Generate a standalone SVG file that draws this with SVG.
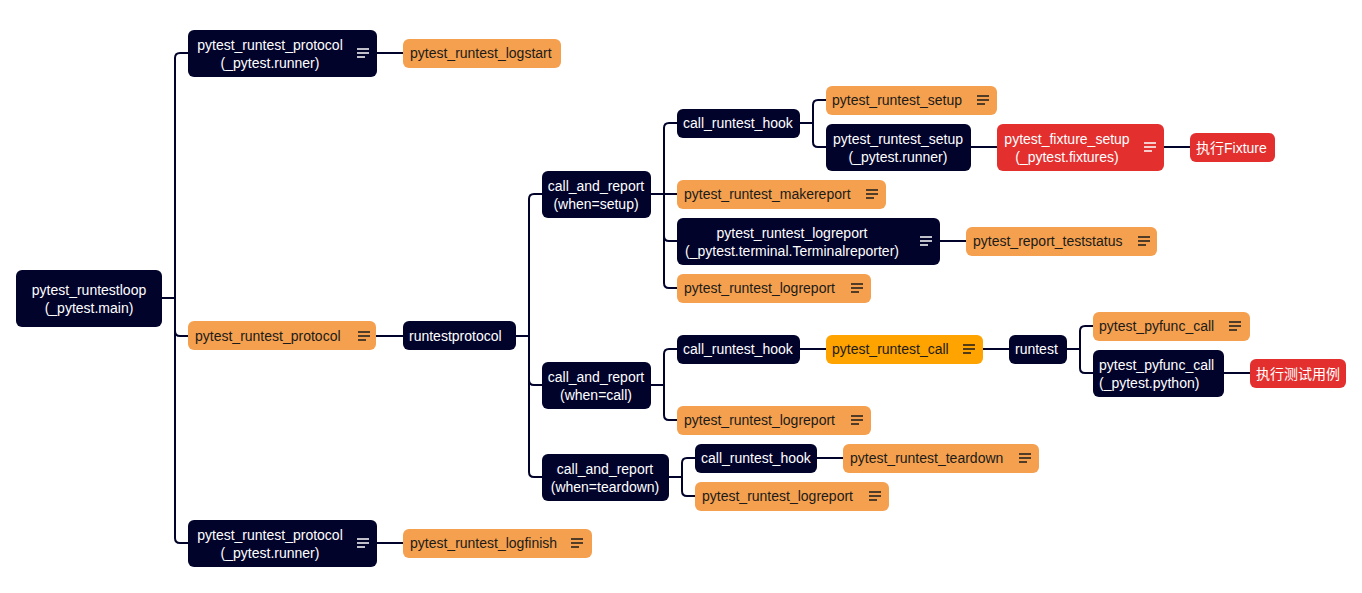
<svg xmlns="http://www.w3.org/2000/svg" width="1362" height="593" viewBox="0 0 1362 593">
<style>
.d{fill:#02032B}
.o{fill:#F5A04E}
.y{fill:#FFA300}
.r{fill:#E3302F}
text{font-family:"Liberation Sans","Noto Sans CJK SC",sans-serif;font-size:14px}
.w{fill:#ffffff}
.k{fill:#1b1b1b}
.c{text-anchor:middle}
.ic{fill:none;stroke-width:1.4}
.iw{stroke:#ffffff}
.ik{stroke:#1b1b1b}
#connectors path{fill:none;stroke:#02032B;stroke-width:2}
</style>
<defs>
<g id="mw"><path class="ic iw" d="M0 0H12M0 4H12M0 8H8"/></g>
<g id="mk"><path class="ic ik" d="M0 0H12M0 4H12M0 8H8"/></g>
</defs>
<rect width="1362" height="593" fill="#ffffff"/>
<g id="connectors">
<path d="M162 298H175V58Q175 53 180 53H188"/>
<path d="M162 298H175V331Q175 336 180 336H188"/>
<path d="M162 298H175V538Q175 543 180 543H188"/>
<path d="M377 53H403"/>
<path d="M376 336H403"/>
<path d="M377 543H403"/>
<path d="M516 336H529V199Q529 194 534 194H542"/>
<path d="M516 336H529V380Q529 385 534 385H542"/>
<path d="M516 336H529V472Q529 477 534 477H542"/>
<path d="M651 194H664V128Q664 123 669 123H677"/>
<path d="M651 194H677"/>
<path d="M651 194H664V236Q664 241 669 241H677"/>
<path d="M651 194H664V283Q664 288 669 288H677"/>
<path d="M800 123H813V105Q813 100 818 100H826"/>
<path d="M800 123H813V142Q813 147 818 147H826"/>
<path d="M971 147H997"/>
<path d="M1164 147H1190"/>
<path d="M940 241H966"/>
<path d="M651 385H664V354Q664 349 669 349H677"/>
<path d="M651 385H664V415Q664 420 669 420H677"/>
<path d="M800 349H826"/>
<path d="M983 349H1009"/>
<path d="M1067 349H1080V331Q1080 326 1085 326H1093"/>
<path d="M1067 349H1080V368Q1080 373 1085 373H1093"/>
<path d="M1224 373H1250"/>
<path d="M669 477H682V463Q682 458 687 458H695"/>
<path d="M669 477H682V491Q682 496 687 496H695"/>
<path d="M817 458H843"/>
</g>
<g id="root"><rect class="d" x="16" y="270" width="146" height="57" rx="6"/><text class="w c" x="89" y="295">pytest_runtestloop</text><text class="w c" x="89" y="313">(_pytest.main)</text></g>
<g id="p1"><rect class="d" x="188" y="30" width="189" height="47" rx="6"/><text class="w c" x="270" y="50">pytest_runtest_protocol</text><text class="w c" x="270" y="68">(_pytest.runner)</text><use href="#mw" x="357" y="49"/></g>
<g id="logstart"><rect class="o" x="403" y="39" width="158" height="29" rx="6"/><text class="k" x="410" y="58">pytest_runtest_logstart</text></g>
<g id="p2"><rect class="o" x="188" y="321" width="188" height="29" rx="6"/><text class="k" x="195" y="341">pytest_runtest_protocol</text><use href="#mk" x="358" y="332"/></g>
<g id="runtestprotocol"><rect class="d" x="403" y="321" width="113" height="29" rx="6"/><text class="w" x="409" y="341">runtestprotocol</text></g>
<g id="p3"><rect class="d" x="188" y="520" width="189" height="47" rx="6"/><text class="w c" x="270" y="540">pytest_runtest_protocol</text><text class="w c" x="270" y="558">(_pytest.runner)</text><use href="#mw" x="357" y="539"/></g>
<g id="logfinish"><rect class="o" x="403" y="529" width="189" height="29" rx="6"/><text class="k" x="410" y="548">pytest_runtest_logfinish</text><use href="#mk" x="571" y="539"/></g>
<g id="car_setup"><rect class="d" x="542" y="171" width="109" height="47" rx="6"/><text class="w c" x="596" y="191">call_and_report</text><text class="w c" x="596" y="209">(when=setup)</text></g>
<g id="crh1"><rect class="d" x="677" y="109" width="123" height="29" rx="6"/><text class="w" x="683" y="128">call_runtest_hook</text></g>
<g id="setup1"><rect class="o" x="826" y="86" width="171" height="29" rx="6"/><text class="k" x="832" y="105">pytest_runtest_setup</text><use href="#mk" x="977" y="96"/></g>
<g id="setup2"><rect class="d" x="826" y="124" width="145" height="47" rx="6"/><text class="w c" x="898" y="144">pytest_runtest_setup</text><text class="w c" x="898" y="162">(_pytest.runner)</text></g>
<g id="fixture_setup"><rect class="r" x="997" y="124" width="167" height="47" rx="6"/><text class="w c" x="1067" y="144">pytest_fixture_setup</text><text class="w c" x="1067" y="162">(_pytest.fixtures)</text><use href="#mw" x="1144" y="143"/></g>
<g id="exec_fixture"><rect class="r" x="1190" y="133" width="85" height="29" rx="6"/><text class="w" x="1196" y="153">执行Fixture</text></g>
<g id="makereport"><rect class="o" x="677" y="180" width="209" height="29" rx="6"/><text class="k" x="684" y="199">pytest_runtest_makereport</text><use href="#mk" x="866" y="190"/></g>
<g id="logreport_term"><rect class="d" x="677" y="218" width="263" height="47" rx="6"/><text class="w c" x="792" y="238">pytest_runtest_logreport</text><text class="w c" x="792" y="256">(_pytest.terminal.Terminalreporter)</text><use href="#mw" x="920" y="237"/></g>
<g id="teststatus"><rect class="o" x="966" y="227" width="191" height="29" rx="6"/><text class="k" x="973" y="246">pytest_report_teststatus</text><use href="#mk" x="1138" y="237"/></g>
<g id="logreport_setup"><rect class="o" x="677" y="274" width="194" height="29" rx="6"/><text class="k" x="684" y="293">pytest_runtest_logreport</text><use href="#mk" x="851" y="284"/></g>
<g id="car_call"><rect class="d" x="542" y="362" width="109" height="47" rx="6"/><text class="w c" x="596" y="382">call_and_report</text><text class="w c" x="596" y="400">(when=call)</text></g>
<g id="crh2"><rect class="d" x="677" y="335" width="123" height="29" rx="6"/><text class="w" x="683" y="354">call_runtest_hook</text></g>
<g id="runtest_call"><rect class="y" x="826" y="335" width="157" height="29" rx="6"/><text class="k" x="832" y="354">pytest_runtest_call</text><use href="#mk" x="963" y="345"/></g>
<g id="runtest"><rect class="d" x="1009" y="335" width="58" height="29" rx="6"/><text class="w" x="1015" y="354">runtest</text></g>
<g id="pyfunc1"><rect class="o" x="1093" y="312" width="157" height="29" rx="6"/><text class="k" x="1099" y="331">pytest_pyfunc_call</text><use href="#mk" x="1229" y="322"/></g>
<g id="pyfunc2"><rect class="d" x="1093" y="350" width="131" height="47" rx="6"/><text class="w" x="1099" y="370">pytest_pyfunc_call</text><text class="w" x="1099" y="388">(_pytest.python)</text></g>
<g id="exec_case"><rect class="r" x="1250" y="359" width="96" height="29" rx="6"/><text class="w" x="1256" y="379">执行测试用例</text></g>
<g id="logreport_call"><rect class="o" x="677" y="406" width="194" height="29" rx="6"/><text class="k" x="684" y="425">pytest_runtest_logreport</text><use href="#mk" x="851" y="416"/></g>
<g id="car_teardown"><rect class="d" x="542" y="454" width="127" height="47" rx="6"/><text class="w c" x="605" y="474">call_and_report</text><text class="w c" x="605" y="492">(when=teardown)</text></g>
<g id="crh3"><rect class="d" x="695" y="444" width="122" height="29" rx="6"/><text class="w" x="701" y="463">call_runtest_hook</text></g>
<g id="teardown"><rect class="o" x="843" y="444" width="196" height="29" rx="6"/><text class="k" x="850" y="463">pytest_runtest_teardown</text><use href="#mk" x="1019" y="454"/></g>
<g id="logreport_teardown"><rect class="o" x="695" y="482" width="194" height="29" rx="6"/><text class="k" x="702" y="501">pytest_runtest_logreport</text><use href="#mk" x="869" y="492"/></g>
</svg>
